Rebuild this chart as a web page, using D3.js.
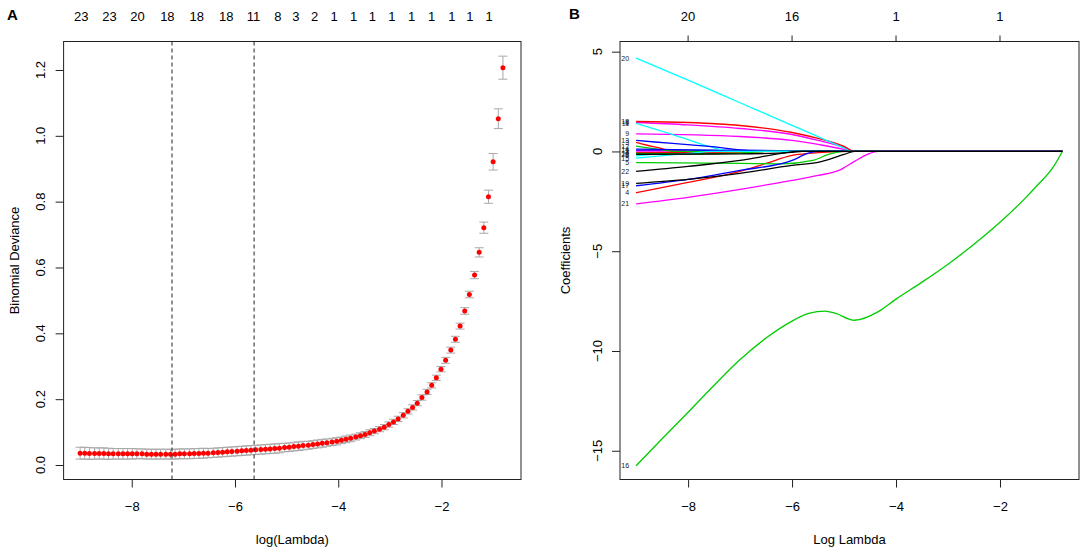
<!DOCTYPE html>
<html>
<head>
<meta charset="utf-8">
<script src="https://cdn.jsdelivr.net/npm/d3@7"></script>
<style>
  body { margin: 0; background: #fff; }
  svg text { font-family: "Liberation Sans", Arial, Helvetica, sans-serif; }
</style>
</head>
<body>
<div id="chart"></div>
<script>
// ---- panel A data: cross-validated binomial deviance ----
const cvLogLambda = [
  -9.00, -8.91, -8.82, -8.72, -8.63, -8.54, -8.45, -8.36, -8.26, -8.17,
  -8.08, -7.99, -7.90, -7.80, -7.71, -7.62, -7.53, -7.44, -7.34, -7.25,
  -7.16, -7.07, -6.98, -6.88, -6.79, -6.70, -6.61, -6.52, -6.42, -6.33,
  -6.24, -6.15, -6.06, -5.96, -5.87, -5.78, -5.69, -5.60, -5.50, -5.41,
  -5.32, -5.23, -5.14, -5.04, -4.95, -4.86, -4.77, -4.68, -4.58, -4.49,
  -4.40, -4.31, -4.22, -4.12, -4.03, -3.94, -3.85, -3.76, -3.66, -3.57,
  -3.48, -3.39, -3.30, -3.20, -3.11, -3.02, -2.93, -2.84, -2.74, -2.65,
  -2.56, -2.47, -2.38, -2.28, -2.19, -2.10, -2.01, -1.92, -1.82, -1.73,
  -1.64, -1.55, -1.46, -1.36, -1.27, -1.18, -1.09, -1.00, -0.90, -0.81
];
const cvMean = [
  0.036, 0.036, 0.035, 0.035, 0.035, 0.035, 0.034, 0.034, 0.034, 0.034,
  0.034, 0.034, 0.034, 0.034, 0.033, 0.033, 0.033, 0.033, 0.033, 0.033,
  0.033, 0.034, 0.034, 0.034, 0.035, 0.035, 0.036, 0.036, 0.037, 0.038,
  0.039, 0.040, 0.041, 0.042, 0.043, 0.044, 0.045, 0.046, 0.047, 0.048,
  0.049, 0.050, 0.051, 0.053, 0.054, 0.056, 0.057, 0.059, 0.060, 0.062,
  0.064, 0.066, 0.068, 0.070, 0.072, 0.075, 0.078, 0.081, 0.085, 0.089,
  0.093, 0.098, 0.103, 0.109, 0.115, 0.123, 0.131, 0.140, 0.151, 0.163,
  0.175, 0.188, 0.205, 0.222, 0.242, 0.265, 0.291, 0.318, 0.349, 0.382,
  0.422, 0.468, 0.518, 0.577, 0.646, 0.721, 0.815, 0.921, 1.052, 1.207
];
const cvSd = [
  0.018, 0.018, 0.018, 0.017, 0.017, 0.017, 0.017, 0.016, 0.016, 0.016,
  0.016, 0.016, 0.015, 0.015, 0.015, 0.015, 0.015, 0.015, 0.015, 0.015,
  0.015, 0.015, 0.015, 0.015, 0.015, 0.015, 0.015, 0.014, 0.014, 0.014,
  0.014, 0.014, 0.014, 0.014, 0.014, 0.014, 0.014, 0.014, 0.014, 0.014,
  0.014, 0.014, 0.014, 0.013, 0.013, 0.013, 0.013, 0.013, 0.012, 0.012,
  0.012, 0.012, 0.011, 0.011, 0.011, 0.010, 0.010, 0.010, 0.009, 0.009,
  0.009, 0.009, 0.008, 0.008, 0.008, 0.008, 0.008, 0.008, 0.008, 0.008,
  0.008, 0.008, 0.008, 0.008, 0.008, 0.008, 0.008, 0.009, 0.009, 0.009,
  0.009, 0.010, 0.010, 0.011, 0.014, 0.017, 0.020, 0.025, 0.030, 0.035
];
// lambda.min and lambda.1se
const cvMarks = [-7.22, -5.63];
// number of non-zero coefficients shown on top
const nzLabels = ["23","23","20","18","18","18","11","8","3","2","1","1","1","1","1","1","1","1","1"];
const nzAt = [-8.98,-8.43,-7.89,-7.31,-6.74,-6.17,-5.64,-5.17,-4.82,-4.46,-4.08,-3.70,-3.34,-2.96,-2.58,-2.19,-1.80,-1.45,-1.08];
const devTicks = [0, 0.2, 0.4, 0.6, 0.8, 1.0, 1.2];
const lambdaTicks = [-8, -6, -4, -2];

// ---- panel B data: coefficient paths ----
const coefLabels = ["1","2","3","4","5","6","7","8","9","10","11","12","13","14","15","16","17","18","19","20","21","22","23"];
const coefColors = ["blue","magenta","red","red","green","cyan","red","magenta","magenta","green","cyan","green",
                    "blue","blue","cyan","green","blue","red","black","cyan","magenta","black","black"];
const coefPaths = [
  [[-9,0.05],[-7,0.06],[-6,0.03],[-5.5,0],[-0.8,0]],
  [[-9,0.02],[-8,0.01],[-7.5,0],[-0.8,0]],
  [[-9,0.46],[-8.6,0.2],[-8.2,0],[-0.8,0]],
  [[-9,-2.07],[-8,-1.55],[-7,-1.0],[-6.5,-0.6],[-6,-0.2],[-5.5,-0.06],[-4.8,0],[-0.8,0]],
  [[-9,-0.56],[-7,-0.6],[-6.2,-0.62],[-5.6,-0.45],[-5.3,-0.15],[-5,0],[-0.8,0]],
  [[-9,-0.22],[-8.5,-0.1],[-8,0],[-0.8,0]],
  [[-9,-0.06],[-7,-0.03],[-6.5,0],[-0.8,0]],
  [[-9,1.45],[-8,1.33],[-7,1.15],[-6,0.85],[-5.5,0.55],[-5,0.2],[-4.8,0],[-0.8,0]],
  [[-9,0.88],[-7,0.75],[-6,0.55],[-5.5,0.35],[-5,0.1],[-4.85,0],[-0.8,0]],
  [[-9,-0.1],[-8,-0.12],[-7,-0.08],[-6.5,0],[-0.8,0]],
  [[-9,1.41],[-8.1,0.68],[-7.6,0.25],[-7.15,0],[-0.8,0]],
  [[-9,0.27],[-8.6,0.12],[-8.2,0],[-0.8,0]],
  [[-9,0.55],[-8.3,0.4],[-7.6,0.25],[-6.5,0],[-0.8,0]],
  [[-9,0.12],[-8,0.08],[-7,0.02],[-6.5,0],[-0.8,0]],
  [[-9,-0.33],[-8,-0.1],[-7.5,0],[-0.8,0]],
  [[-9,-15.75],[-8.5,-14.4],[-8,-13.07],[-7.5,-11.72],[-7,-10.43],[-6.5,-9.35],[-6,-8.5],[-5.68,-8.12],
   [-5.36,-8.0],[-5.16,-8.12],[-4.8,-8.46],[-4.34,-8.03],[-4,-7.4],[-3.5,-6.55],[-3,-5.65],
   [-2.5,-4.65],[-2,-3.55],[-1.5,-2.3],[-1.29,-1.72],[-0.97,-0.76],[-0.8,0]],
  [[-9,-1.72],[-8,-1.4],[-7,-0.95],[-6,-0.45],[-5.7,-0.1],[-5.5,0],[-0.8,0]],
  [[-9,1.5],[-8,1.45],[-7,1.3],[-6,0.95],[-5.5,0.65],[-5,0.25],[-4.8,0],[-0.8,0]],
  [[-9,-1.6],[-8,-1.4],[-7,-1.1],[-6,-0.7],[-5.5,-0.55],[-5,-0.15],[-4.8,0],[-0.8,0]],
  [[-9,4.68],[-8,3.57],[-7,2.44],[-6,1.31],[-5.5,0.74],[-5,0.17],[-4.85,0],[-0.8,0]],
  [[-9,-2.63],[-8,-2.3],[-7,-1.9],[-6,-1.45],[-5.5,-1.2],[-5.1,-0.95],[-4.8,-0.5],[-4.55,-0.15],[-4.35,0],[-0.8,0]],
  [[-9,-1.0],[-8,-0.75],[-7,-0.45],[-6.2,-0.1],[-5.9,0],[-0.8,0]],
  [[-9,-0.14],[-7,-0.12],[-6,-0.05],[-5.8,0],[-0.8,0]]
];
const coefTicks = [-15, -10, -5, 0, 5];
const dfTopLabels = ["20", "16", "1", "1"];

// ---- layout ----
const W = 1084, H = 549;
const boxTop = 41.5, boxBottom = 479.5;
const colors = { red: "#FF0000", green: "#00CD00", blue: "#0000FF", cyan: "#00FFFF", magenta: "#FF00FF", black: "#000000" };

const svg = d3.select("#chart").append("svg")
  .attr("width", W)
  .attr("height", H);

const fmtMinus = s => String(s).replace("-", "\u2212");

// draws box, bottom and left axes of one panel
function drawFrame(g, x, y, yTicks, yFmt, xLabel, yLabel, yLabelX, yTickX) {
  g.append("rect")
    .attr("x", x.range()[0]).attr("y", boxTop)
    .attr("width", x.range()[1] - x.range()[0]).attr("height", boxBottom - boxTop)
    .attr("fill", "none").attr("stroke", "#222").attr("stroke-width", 1);

  const xAxis = g.append("g")
    .attr("transform", `translate(0,${boxBottom})`)
    .call(d3.axisBottom(x).tickValues(lambdaTicks).tickSize(8).tickPadding(14)
      .tickFormat(d => fmtMinus(d)));
  xAxis.select(".domain").remove();
  xAxis.selectAll("line").attr("stroke", "#222");
  xAxis.selectAll("text").attr("font-size", 13).attr("fill", "#000")
    .attr("font-family", '"Liberation Sans", Arial, sans-serif');

  const yAxis = g.append("g")
    .attr("transform", `translate(${x.range()[0]},0)`)
    .call(d3.axisLeft(y).tickValues(yTicks).tickSize(8).tickFormat(""));
  yAxis.select(".domain").remove();
  yAxis.selectAll("line").attr("stroke", "#222");

  g.selectAll(null).data(yTicks).enter().append("text")
    .attr("transform", d => `translate(${yTickX},${y(d)}) rotate(-90)`)
    .attr("text-anchor", "middle")
    .attr("font-size", 13)
    .text(d => fmtMinus(yFmt(d)));

  g.append("text")
    .attr("x", (x.range()[0] + x.range()[1]) / 2).attr("y", 544)
    .attr("text-anchor", "middle").attr("font-size", 13)
    .text(xLabel);

  g.append("text")
    .attr("transform", `translate(${yLabelX},${(boxTop + boxBottom) / 2}) rotate(-90)`)
    .attr("text-anchor", "middle").attr("font-size", 13)
    .text(yLabel);
}

// ---- panel A ----
const xA = d3.scaleLinear().domain([-9.32, -0.46]).range([63.6, 521]);
const yA = d3.scaleLinear().domain([-0.044, 1.2865]).range([boxBottom, boxTop]);
const gA = svg.append("g");

drawFrame(gA, xA, yA, devTicks, d3.format(".1f"), "log(Lambda)", "Binomial Deviance", 19, 45);

const cv = cvLogLambda.map((l, i) => ({ l, m: cvMean[i], s: cvSd[i] }));
const bars = gA.append("g").attr("stroke", "#A9A9A9").attr("stroke-width", 1);
bars.selectAll(".v").data(cv).enter().append("line")
  .attr("x1", d => xA(d.l)).attr("x2", d => xA(d.l))
  .attr("y1", d => yA(d.m - d.s)).attr("y2", d => yA(d.m + d.s));
bars.selectAll(".up").data(cv).enter().append("line")
  .attr("x1", d => xA(d.l) - 4.5).attr("x2", d => xA(d.l) + 4.5)
  .attr("y1", d => yA(d.m + d.s)).attr("y2", d => yA(d.m + d.s));
bars.selectAll(".lo").data(cv).enter().append("line")
  .attr("x1", d => xA(d.l) - 4.5).attr("x2", d => xA(d.l) + 4.5)
  .attr("y1", d => yA(d.m - d.s)).attr("y2", d => yA(d.m - d.s));

gA.append("g").selectAll("circle").data(cv).enter().append("circle")
  .attr("cx", d => xA(d.l)).attr("cy", d => yA(d.m))
  .attr("r", 2.5).attr("fill", "#FF0000");

gA.selectAll(".mark").data(cvMarks).enter().append("line")
  .attr("x1", d => xA(d)).attr("x2", d => xA(d))
  .attr("y1", boxTop).attr("y2", boxBottom)
  .attr("stroke", "#222").attr("stroke-width", 1).attr("stroke-dasharray", "4,3");

gA.selectAll(".nz").data(nzLabels).enter().append("text")
  .attr("x", (d, i) => xA(nzAt[i])).attr("y", 20.5)
  .attr("text-anchor", "middle").attr("font-size", 13)
  .text(d => d);

svg.append("text").attr("x", 7).attr("y", 19.5)
  .attr("font-size", 15).attr("font-weight", "bold").text("A");

// ---- panel B ----
const xB = d3.scaleLinear().domain([-9.31, -0.48]).range([620, 1079]);
const yB = d3.scaleLinear().domain([-16.44, 5.51]).range([boxBottom, boxTop]);
const gB = svg.append("g");

drawFrame(gB, xB, yB, coefTicks, d3.format("d"), "Log Lambda", "Coefficients", 570, 602);

const line = d3.line()
  .x(d => xB(d[0])).y(d => yB(d[1]))
  .curve(d3.curveMonotoneX);

gB.append("g").selectAll("path").data(coefPaths).enter().append("path")
  .attr("d", line)
  .attr("fill", "none")
  .attr("stroke", (d, i) => colors[coefColors[i]])
  .attr("stroke-width", 1.3);

gB.append("g").selectAll("text").data(coefPaths).enter().append("text")
  .attr("x", d => xB(d[0][0]) - 7).attr("y", d => yB(d[0][1]) + 2.5)
  .attr("text-anchor", "end").attr("font-size", 7).attr("fill", "#222")
  .text((d, i) => coefLabels[i]);

gB.selectAll(".tt").data(lambdaTicks).enter().append("line")
  .attr("x1", d => xB(d)).attr("x2", d => xB(d))
  .attr("y1", boxTop).attr("y2", boxTop - 6)
  .attr("stroke", "#222");
gB.selectAll(".tl").data(dfTopLabels).enter().append("text")
  .attr("x", (d, i) => xB(lambdaTicks[i])).attr("y", 21)
  .attr("text-anchor", "middle").attr("font-size", 13)
  .text(d => d);

svg.append("text").attr("x", 569).attr("y", 19)
  .attr("font-size", 15).attr("font-weight", "bold").text("B");
</script>
</body>
</html>
